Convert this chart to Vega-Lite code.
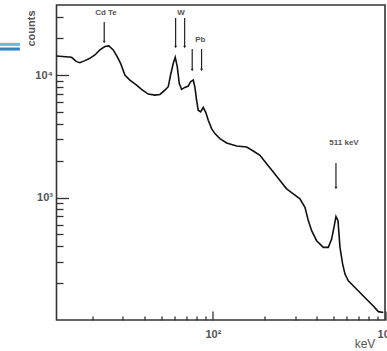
{
  "$schema": "https://vega.github.io/schema/vega-lite/v6.json",
  "width": 328.5,
  "height": 315,
  "autosize": {"type": "none"},
  "padding": {"left": 56.5, "top": 5, "right": 2, "bottom": 31},
  "background": "white",
  "config": {
    "view": {"stroke": "#333", "strokeWidth": 1.6},
    "axis": {"grid": false, "domain": false, "labelFont": "Liberation Sans", "labelFontWeight": "bold", "labelColor": "#555", "labelOverlap": false, "labelFlush": false, "tickColor": "#333", "tickWidth": 1.3, "titleFont": "Liberation Sans", "titleColor": "#555"}
  },
  "datasets": {
    "spectrum": [
      {"e": 12.34, "c": 14310}, {"e": 15.08, "c": 13960}, {"e": 16.12, "c": 12860}, {"e": 16.85, "c": 12620},
      {"e": 18.03, "c": 13110}, {"e": 19.27, "c": 13690}, {"e": 20.61, "c": 14580}, {"e": 22.03, "c": 16030},
      {"e": 23.56, "c": 17070}, {"e": 24.85, "c": 17290}, {"e": 26.33, "c": 16030}, {"e": 27.78, "c": 14140},
      {"e": 29.06, "c": 12460}, {"e": 30.78, "c": 10000}, {"e": 32.91, "c": 9100}, {"e": 35.99, "c": 8280},
      {"e": 38.48, "c": 7630}, {"e": 42.07, "c": 6990}, {"e": 46.0, "c": 6850}, {"e": 49.19, "c": 6940},
      {"e": 52.6, "c": 7540}, {"e": 55.01, "c": 8030}, {"e": 56.76, "c": 10000}, {"e": 58.82, "c": 12460},
      {"e": 60.4, "c": 13960}, {"e": 62.04, "c": 11700}, {"e": 63.72, "c": 8545}, {"e": 65.73, "c": 7630},
      {"e": 68.74, "c": 7920}, {"e": 71.87, "c": 8125}, {"e": 74.17, "c": 8820}, {"e": 76.86, "c": 9100},
      {"e": 78.61, "c": 7920}, {"e": 80.35, "c": 6240}, {"e": 82.16, "c": 5165}, {"e": 84.76, "c": 5005},
      {"e": 87.85, "c": 5430}, {"e": 91.06, "c": 4913}, {"e": 93.94, "c": 4277}, {"e": 98.24, "c": 3655},
      {"e": 102.7, "c": 3326}, {"e": 109.8, "c": 3027}, {"e": 120.1, "c": 2788}, {"e": 137.3, "c": 2635},
      {"e": 157.0, "c": 2585}, {"e": 171.6, "c": 2398}, {"e": 187.7, "c": 2210}, {"e": 205.1, "c": 1888},
      {"e": 224.3, "c": 1613}, {"e": 245.2, "c": 1378}, {"e": 268.1, "c": 1178}, {"e": 293.1, "c": 1072},
      {"e": 320.4, "c": 975}, {"e": 342.6, "c": 833}, {"e": 358.3, "c": 648}, {"e": 374.7, "c": 536},
      {"e": 400.6, "c": 444}, {"e": 438.0, "c": 392}, {"e": 468.2, "c": 392}, {"e": 489.6, "c": 458},
      {"e": 505.1, "c": 571}, {"e": 519.0, "c": 699}, {"e": 533.1, "c": 648}, {"e": 547.5, "c": 392},
      {"e": 567.4, "c": 286}, {"e": 585.4, "c": 237}, {"e": 612.1, "c": 209}, {"e": 669.2, "c": 184},
      {"e": 748.2, "c": 157}, {"e": 855.2, "c": 130}, {"e": 914.8, "c": 117}, {"e": 977.9, "c": 115}
    ],
    "arrows": [
      {"e": 23.35, "top": 27080, "bottom": 18600},
      {"e": 60.7, "top": 29200, "bottom": 16930},
      {"e": 68.5, "top": 29200, "bottom": 16930},
      {"e": 75.8, "top": 16300, "bottom": 10985},
      {"e": 85.9, "top": 16300, "bottom": 10985},
      {"e": 518.8, "top": 1912, "bottom": 1196}
    ],
    "labels": [
      {"e": 23.9, "c": 32380, "text": "Cd Te"},
      {"e": 65.2, "c": 32060, "text": "W"},
      {"e": 84.5, "c": 19310, "text": "Pb"},
      {"e": 577.7, "c": 2812, "text": "511 keV"}
    ],
    "decoLight": [{"e1": 5.0, "e2": 7.55, "c": 17800}],
    "decoDark": [{"e1": 5.0, "e2": 7.55, "c": 16300}]
  },
  "layer": [
    {
      "data": {"name": "spectrum"},
      "mark": {"type": "line", "color": "#111", "strokeWidth": 1.6, "interpolate": "linear"},
      "encoding": {
        "x": {"field": "e", "type": "quantitative", "scale": {"type": "log", "domain": [12.33, 1000], "nice": false},
          "axis": {"orient": "bottom", "values": [20, 30, 40, 50, 60, 70, 80, 90, 100, 200, 300, 400, 500, 600, 700, 800, 900, 1000],
            "labelExpr": "datum.value == 100 ? '10²' : datum.value == 1000 ? '10³' : ''",
            "tickSize": {"condition": {"test": "datum.value == 100 || datum.value == 1000", "value": -9}, "value": -4},
            "labelPadding": 17, "labelFontSize": 11,
            "title": "keV", "titleFontSize": 12, "titleFontWeight": "normal", "titleX": 308, "titleY": 27, "titleAlign": "center", "titleBaseline": "alphabetic"}},
        "y": {"field": "c", "type": "quantitative", "scale": {"type": "log", "domain": [100, 37300], "nice": false},
          "axis": {"orient": "left", "values": [200, 300, 400, 500, 600, 700, 800, 900, 1000, 2000, 3000, 4000, 5000, 6000, 7000, 8000, 9000, 10000, 20000, 30000],
            "labelExpr": "datum.value == 1000 ? '10³' : datum.value == 10000 ? '10⁴' : ''",
            "tickSize": {"condition": {"test": "datum.value == 1000 || datum.value == 10000", "value": -12}, "value": -6.5},
            "labelPadding": 16, "labelFontSize": 11,
            "title": "counts", "titleFontSize": 11, "titleFontWeight": "bold", "titleAngle": -90, "titleX": -25, "titleY": 23, "titleAlign": "center", "titleBaseline": "middle"}}
      }
    },
    {
      "data": {"name": "arrows"},
      "mark": {"type": "rule", "color": "#222", "strokeWidth": 1.2},
      "encoding": {
        "x": {"field": "e", "type": "quantitative"},
        "y": {"field": "top", "type": "quantitative"},
        "y2": {"field": "bottom"}
      }
    },
    {
      "data": {"name": "arrows"},
      "mark": {"type": "point", "shape": "triangle-down", "filled": true, "color": "#222", "size": 8, "opacity": 1},
      "encoding": {
        "x": {"field": "e", "type": "quantitative"},
        "y": {"field": "bottom", "type": "quantitative"}
      }
    },
    {
      "data": {"name": "labels"},
      "mark": {"type": "text", "font": "Liberation Sans", "fontWeight": "bold", "fontSize": 8, "color": "#555", "baseline": "middle", "align": "center"},
      "encoding": {
        "x": {"field": "e", "type": "quantitative"},
        "y": {"field": "c", "type": "quantitative"},
        "text": {"field": "text"}
      }
    },
    {
      "data": {"name": "decoLight"},
      "mark": {"type": "rule", "color": "#6cb4e4", "strokeWidth": 3, "clip": false},
      "encoding": {
        "x": {"field": "e1", "type": "quantitative"},
        "x2": {"field": "e2"},
        "y": {"field": "c", "type": "quantitative"}
      }
    },
    {
      "data": {"name": "decoDark"},
      "mark": {"type": "rule", "color": "#3580c4", "strokeWidth": 3, "clip": false},
      "encoding": {
        "x": {"field": "e1", "type": "quantitative"},
        "x2": {"field": "e2"},
        "y": {"field": "c", "type": "quantitative"}
      }
    }
  ]
}
